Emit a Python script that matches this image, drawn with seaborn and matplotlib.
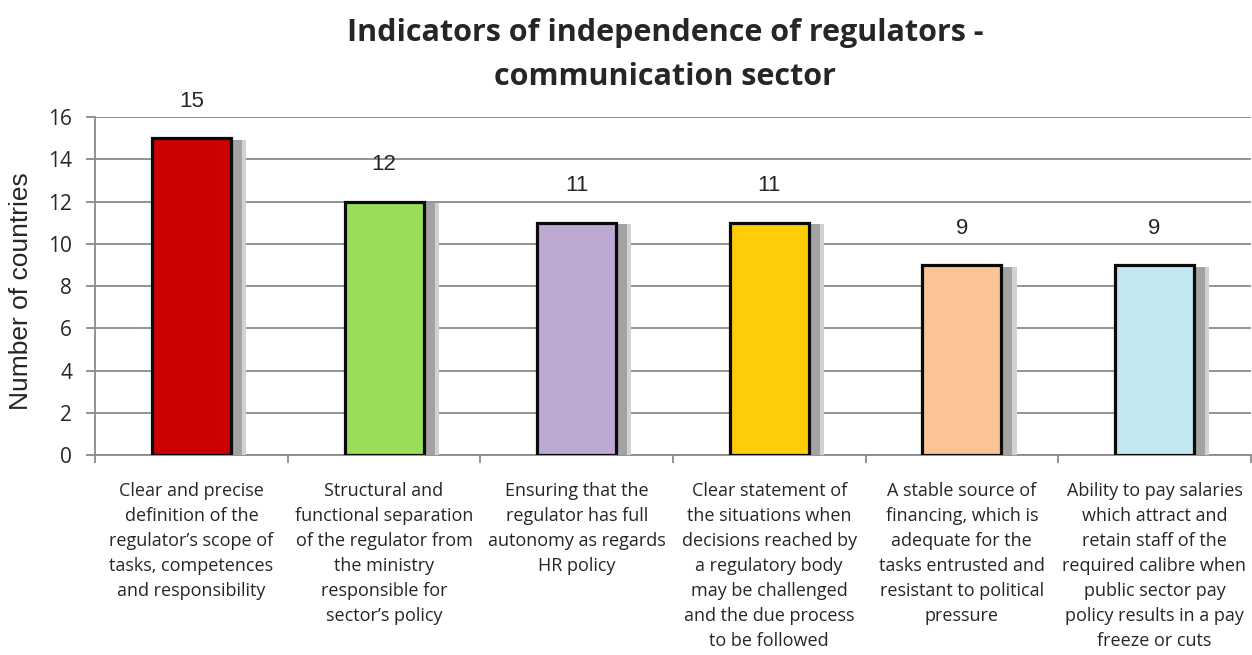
import pandas as pd
import matplotlib
matplotlib.use('Agg')
import matplotlib.pyplot as plt
import matplotlib.patheffects as pe
import seaborn as sns

# Data
categories = [
    "Clear and precise\ndefinition of the\nregulator\u2019s scope of\ntasks, competences\nand responsibility",
    "Structural and\nfunctional separation\nof the regulator from\nthe ministry\nresponsible for\nsector\u2019s policy",
    "Ensuring that the\nregulator has full\nautonomy as regards\nHR policy",
    "Clear statement of\nthe situations when\ndecisions reached by\na regulatory body\nmay be challenged\nand the due process\nto be followed",
    "A stable source of\nfinancing, which is\nadequate for the\ntasks entrusted and\nresistant to political\npressure",
    "Ability to pay salaries\nwhich attract and\nretain staff of the\nrequired calibre when\npublic sector pay\npolicy results in a pay\nfreeze or cuts",
]
countries = [15, 12, 11, 11, 9, 9]
bar_colors = ["#CC0000", "#9ADD58", "#BDA9D3", "#FFCC08", "#FAC496", "#C2E7F1"]

df = pd.DataFrame({"indicator": categories, "countries": countries})

sns.set_style("white")
plt.rcParams['font.family'] = ['Open Sans', 'DejaVu Sans']

fig = plt.figure(figsize=(12.52, 6.55), dpi=100)
ax = fig.add_axes([0.076, 0.305, 0.923, 0.516])

sns.barplot(data=df, x="indicator", y="countries", hue="indicator",
            palette=bar_colors, legend=False, width=0.41, saturation=1,
            edgecolor="#0a0a0a", linewidth=2.3, ax=ax, zorder=3)

# soft drop shadow on the bars
for p in ax.patches:
    p.set_path_effects([
        pe.SimplePatchShadow(offset=(11, -1), shadow_rgbFace="#d2d2d2", alpha=1.0),
        pe.SimplePatchShadow(offset=(8, -1), shadow_rgbFace="#a3a3a3", alpha=1.0),
        pe.Normal()])

# value labels
for i, v in enumerate(countries):
    ax.text(i, v + 1.75, str(v), ha="center", va="center", fontsize=16,
            family=['Liberation Sans', 'DejaVu Sans'], clip_on=False)

ax.set_ylim(0, 16)
ax.set_xlim(-0.5, 5.5)
ax.set_yticks(range(0, 17, 2))
ax.yaxis.grid(True, color="#8a8a8a", linewidth=1.3, zorder=0)
ax.set_axisbelow(True)

for s in ["top", "right"]:
    ax.spines[s].set_visible(False)
ax.spines["left"].set_color("#8a8a8a")
ax.spines["bottom"].set_color("#8a8a8a")
ax.spines["left"].set_linewidth(1.3)
ax.spines["bottom"].set_linewidth(1.3)

ax.tick_params(axis="y", which="major", left=True, length=6.5, width=1.3, color="#8a8a8a",
               labelsize=15, pad=10)
ax.tick_params(axis="x", which="major", bottom=False, labelsize=13, pad=16)
ax.set_xticks([x - 0.5 for x in range(7)], minor=True)
ax.tick_params(axis="x", which="minor", bottom=True, length=6, width=1.3, color="#8a8a8a")
for lbl in ax.get_xticklabels():
    lbl.set_multialignment("center")
    lbl.set_verticalalignment("top")
    lbl.set_linespacing(1.5)

ax.set_xlabel("")
ax.set_ylabel("Number of countries", fontsize=19, family=['Liberation Sans', 'DejaVu Sans'])
ax.yaxis.set_label_coords(-0.054, 0.485)

fig.text(0.531, 0.972, "Indicators of independence of regulators -\ncommunication sector",
         ha="center", va="top", fontsize=22, fontweight="bold", linespacing=1.6)

fig.savefig("out.png", dpi=100)
